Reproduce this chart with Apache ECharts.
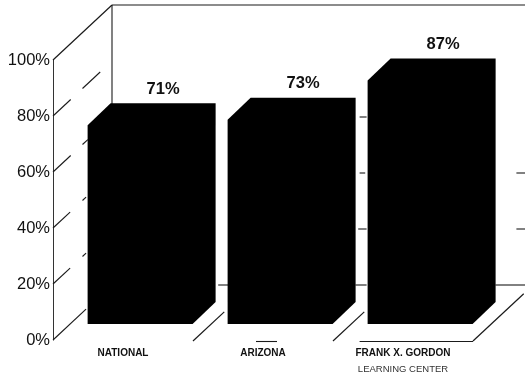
<!DOCTYPE html>
<html>
<head>
<meta charset="utf-8">
<style>html,body{margin:0;padding:0;background:#fff}#chart{width:525px;height:377px}</style>
<script src="https://cdn.jsdelivr.net/npm/echarts@6/dist/echarts.min.js"></script>
</head>
<body>
<div id="chart"></div>
<script>
const categories = ['NATIONAL', 'ARIZONA', 'FRANK X. GORDON\nLEARNING CENTER'];
const percentages = [71, 73, 87];
const yTicks = [0, 20, 40, 60, 80, 100];

// Depth of the floor and side wall, in pixels
const DEPTH_X = 59, DEPTH_Y = -55;
// Each column sits between these fractions of the floor depth
const COL_NEAR = 0.29, COL_DEPTH_X = 23, COL_DEPTH_Y = -22, COL_WIDTH = 0.75;

// Visible pieces of the side-wall gridlines: [level, from, to] as depth fractions
const sideWall = [
  [80, 0, 0.3], [80, 0.5, 0.8], [60, 0, 0.3], [60, 0.5, 0.59],
  [40, 0, 0.29], [40, 0.5, 0.56], [20, 0, 0.29], [20, 0.5, 0.56], [0, 0, 0.56]
];
// Visible pieces of the back-wall gridlines: [level, from, to] in category widths from the left edge
const backWall = [
  [60, 2.19, 2.24], [40, 2.19, 2.23], [20, 2.18, 2.24], [0, 2.16, 2.24], [0, 1.18, 1.25],
  [40, 3.31, 3.38], [20, 3.31, 3.38], [0, 3.16, 3.38]
];
// Floor dividers: [category boundary, depth fraction reached]
const floorLines = [[1, 0.53], [2, 0.53], [3, 0.86]];
// Front floor edge, in category widths
const floorEdge = [[1.45, 1.6], [2.19, 3.0]];

function line(x1, y1, x2, y2, width) {
  return {
    type: 'line',
    shape: { x1, y1, x2, y2 },
    style: { stroke: '#1a1a1a', lineWidth: width || 1.1 }
  };
}

function renderFrame(params, api) {
  const band = api.size([1, 0])[0];
  const left = api.coord([0, 0])[0] - band / 2;
  const y = v => api.coord([0, v])[1];
  const top = y(100);
  const children = [
    line(left, top, left + DEPTH_X, top + DEPTH_Y, 1.2),
    line(left + DEPTH_X, top + DEPTH_Y, left + DEPTH_X, y(0) + DEPTH_Y, 1.1),
    line(left + DEPTH_X, top + DEPTH_Y, 525, top + DEPTH_Y, 1.2)
  ];
  sideWall.forEach(([v, a, b]) => {
    children.push(line(left + DEPTH_X * a, y(v) + DEPTH_Y * a, left + DEPTH_X * b, y(v) + DEPTH_Y * b));
  });
  backWall.forEach(([v, a, b]) => {
    children.push(line(left + band * a, y(v) + DEPTH_Y, left + band * b, y(v) + DEPTH_Y));
  });
  floorLines.forEach(([c, f]) => {
    const x = left + band * c;
    children.push(line(x, y(0) + 1, x + DEPTH_X * f, y(0) + 1 + DEPTH_Y * f, 1.2));
  });
  floorEdge.forEach(([a, b]) => {
    children.push(line(left + band * a, y(0) + 1.5, left + band * b, y(0) + 1.5));
  });
  return { type: 'group', children };
}

function renderColumn(params, api) {
  const band = api.size([1, 0])[0];
  const base = api.coord([api.value(0), 0]);
  const head = api.coord([api.value(0), api.value(1)]);
  const w = band * COL_WIDTH;
  const x0 = base[0] - w / 2 + DEPTH_X * COL_NEAR;
  const x1 = x0 + w;
  const yb = base[1] + DEPTH_Y * COL_NEAR;
  const yt = head[1] + DEPTH_Y * COL_NEAR;
  return {
    type: 'group',
    children: [
      {
        type: 'polygon',
        shape: {
          points: [
            [x0, yb], [x0, yt], [x0 + COL_DEPTH_X, yt + COL_DEPTH_Y],
            [x1 + COL_DEPTH_X, yt + COL_DEPTH_Y], [x1 + COL_DEPTH_X, yb + COL_DEPTH_Y], [x1, yb]
          ]
        },
        style: { fill: '#000' }
      },
      {
        type: 'text',
        style: {
          x: (x0 + x1) / 2 + COL_DEPTH_X,
          y: yt + COL_DEPTH_Y - 14,
          text: api.value(1) + '%',
          align: 'center',
          verticalAlign: 'middle',
          font: 'bold 16.5px "Liberation Sans"',
          fill: '#111'
        }
      }
    ]
  };
}

const chart = echarts.init(document.getElementById('chart'), null, { renderer: 'canvas' });
chart.setOption({
  animation: false,
  backgroundColor: '#fff',
  grid: { left: 53, top: 60, width: 420, height: 280, containLabel: false },
  xAxis: {
    type: 'category',
    data: categories,
    axisLine: { show: false },
    axisTick: { show: false },
    splitLine: { show: false },
    axisLabel: {
      interval: 0,
      margin: 5,
      formatter: v => {
        const parts = v.split('\n');
        return parts[1] ? `{a|${parts[0]}}\n{b|${parts[1]}}` : `{a|${parts[0]}}`;
      },
      rich: {
        a: { fontFamily: 'Liberation Sans', fontWeight: 'bold', fontSize: 10, color: '#111', lineHeight: 16 },
        b: { fontFamily: 'Liberation Sans', fontSize: 9.5, color: '#333', lineHeight: 16 }
      }
    }
  },
  yAxis: {
    type: 'value',
    min: yTicks[0],
    max: yTicks[yTicks.length - 1],
    interval: yTicks[1] - yTicks[0],
    axisLine: { show: true, lineStyle: { color: '#333', width: 1 } },
    axisTick: { show: false },
    splitLine: { show: false },
    axisLabel: {
      margin: 3,
      padding: [4, 0, 0, 0],
      formatter: '{value}%',
      fontFamily: 'Liberation Sans',
      fontSize: 16.5,
      color: '#111'
    }
  },
  series: [
    {
      type: 'custom',
      name: 'frame',
      z: 1,
      silent: true,
      clip: false,
      renderItem: renderFrame,
      data: [[0, 0]],
      encode: { x: 0, y: 1 }
    },
    {
      type: 'custom',
      name: 'percent',
      z: 2,
      silent: true,
      clip: false,
      renderItem: renderColumn,
      data: percentages.map((v, i) => [i, v]),
      encode: { x: 0, y: 1 }
    }
  ]
});
</script>
</body>
</html>
